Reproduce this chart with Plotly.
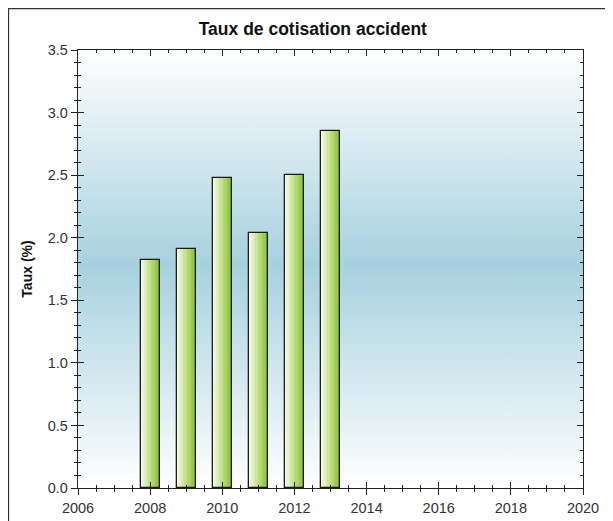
import plotly.graph_objects as go

years = [2008, 2009, 2010, 2011, 2012, 2013]
taux = [1.82, 1.91, 2.48, 2.04, 2.50, 2.85]
x_range = [2006, 2020]
y_range = [0, 3.5]
title_text = "Taux de cotisation accident"
y_title = "Taux (%)"

BAR_W = 0.52
N = 14
left_rgb = (246, 250, 236)
right_rgb = (140, 196, 48)

fig = go.Figure()

# gradient background (base axes)
fig.add_trace(go.Scatter(
    x=[x_range[0], x_range[1], x_range[1], x_range[0], x_range[0]],
    y=[y_range[0], y_range[0], y_range[1], y_range[1], y_range[0]],
    mode="lines", line=dict(width=0), fill="toself",
    fillgradient=dict(type="vertical",
                      colorscale=[[0, "#ffffff"], [0.51, "#a7d1df"], [1, "#ffffff"]]),
    hoverinfo="skip", showlegend=False))

# gradient bars built from slices (overlay axes, drawn above background)
for i in range(N):
    t = i / (N - 1)
    c = tuple(round(left_rgb[k] + (right_rgb[k] - left_rgb[k]) * t) for k in range(3))
    fig.add_trace(go.Bar(
        x=years, y=taux, width=BAR_W / N * 1.05, offset=-BAR_W / 2 + i * BAR_W / N,
        xaxis="x2", yaxis="y2",
        marker=dict(color="rgb(%d,%d,%d)" % c, line=dict(width=0)),
        showlegend=False, hoverinfo="skip"))

# outline
fig.add_trace(go.Bar(
    x=years, y=taux, width=BAR_W, offset=-BAR_W / 2,
    xaxis="x2", yaxis="y2",
    marker=dict(color="rgba(0,0,0,0)", line=dict(color="#1a1a1a", width=1.3)),
    showlegend=False))

axis_font = dict(family="Liberation Sans, Arial", size=14.5, color="#333333")

fig.update_layout(
    width=605, height=513,
    margin=dict(l=70, r=30, t=42, b=33, autoexpand=False),
    paper_bgcolor="white", plot_bgcolor="white",
    barmode="overlay", bargap=0,
    title=dict(text="<b>%s</b>" % title_text, x=0.465, xref="paper", xanchor="center",
               y=1 - 21 / 513, yref="container", yanchor="middle",
               font=dict(family="Liberation Sans, Arial", size=17.5, color="#111111")),
    xaxis=dict(range=x_range, dtick=2, ticks="outside", ticklen=6, tickwidth=1,
               tickcolor="#222", showgrid=False, zeroline=False, showline=True,
               linecolor="#222", linewidth=1.3, mirror=True, tickfont=axis_font,
               automargin=False,
               minor=dict(dtick=0.5, ticks="outside", ticklen=3, tickcolor="#222")),
    yaxis=dict(range=y_range, dtick=0.5, ticks="outside", ticklen=6, tickwidth=1,
               tickcolor="#222", showgrid=False, zeroline=False, showline=True,
               linecolor="#222", linewidth=1.3, mirror=True, tickfont=axis_font,
               tickformat=".1f", automargin=False,
               minor=dict(dtick=0.1, ticks="outside", ticklen=3, tickcolor="#222"),
               title=dict(text="<b>%s</b>" % y_title, standoff=11,
                          font=dict(family="Liberation Sans, Arial", size=14, color="#111"))),
    xaxis2=dict(range=x_range, overlaying="x", side="bottom", dtick=2, ticks="inside",
                ticklen=6, tickcolor="#222", showticklabels=False, showgrid=False,
                zeroline=False, showline=False, mirror="ticks", automargin=False,
                minor=dict(dtick=0.5, ticks="inside", ticklen=3, tickcolor="#222")),
    yaxis2=dict(range=y_range, overlaying="y", side="left", dtick=0.5, ticks="inside",
                ticklen=6, tickcolor="#222", showticklabels=False, showgrid=False,
                zeroline=False, showline=False, mirror="ticks", automargin=False,
                minor=dict(dtick=0.1, ticks="inside", ticklen=3, tickcolor="#222")),
)

# outer frame
fig.add_shape(type="rect", xref="paper", yref="paper",
              x0=-0.1376, x1=1.2, y0=-0.2, y1=1.0947,
              line=dict(color="#333", width=1.3), fillcolor="rgba(0,0,0,0)", layer="above")

fig.write_html("out.html")
